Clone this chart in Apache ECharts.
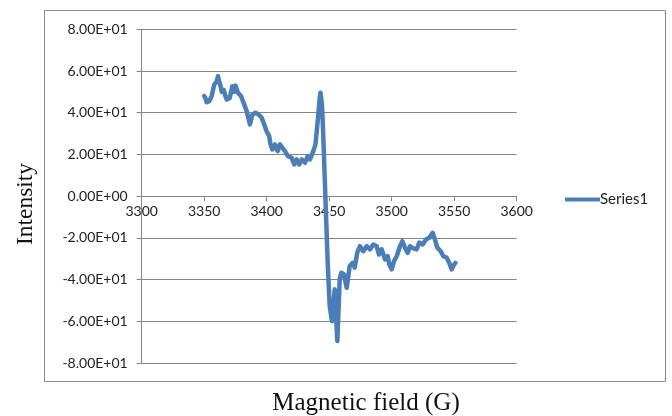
<!DOCTYPE html>
<html>
<head>
<meta charset="utf-8">
<script src="https://cdn.jsdelivr.net/npm/echarts@6/dist/echarts.min.js"></script>
<style>
html,body{margin:0;padding:0;background:#fff;}
#chart{width:672px;height:416px;}
</style>
</head>
<body>
<div id="chart"></div>
<script>
// Magnetic field (G)
var fieldG = [
 3350,3351,3352,3354,3355.4,3356,3358,3360,3361,3362,3363,3364,3365.6,3367,3368,3370.4,3372.5,3374,3375,3377,
 3379.4,3382,3384,3386.6,3388.5,3391,3393.8,3396,3398,3400,3402,3403,3404.5,3406.6,3408.8,3410.6,3412.5,3414.6,3417,3420,
 3422,3424,3426,3428,3430.6,3432.8,3434.6,3437.3,3439,3440.8,3442.4,3443,3444.2,3445,3446,3447.4,3448.8,3450.4,3452.2,3454.4,
 3456.5,3458.4,3459.7,3461.8,3464,3466.4,3468.8,3470.4,3472.5,3474.6,3477.3,3480,3482.6,3485.3,3488,3489.8,3492,3494.6,3496.8,3498,
 3500,3501.8,3504,3506.6,3508.5,3510.6,3512.8,3514.6,3517.3,3520,3522,3524.8,3527.4,3530,3532.8,3534.6,3536.5,3539.2,3541.3,3544,
 3546,3548,3550,3551
];
// Intensity
var intensity = [
 48,47,45,45.5,45,48,53.5,55,57.5,55,53,50,51,48,46.4,47,52.7,50,53,49.6,
 48,44,40.7,34.4,39,40,39,37.6,34.4,31,28.8,25,22.4,24.8,21.6,24.8,23.2,21.6,19.2,18.4,
 15.2,17.6,15.2,17.6,16,19.2,17.6,21.6,24.8,36,47,49.6,44,33,16,-8,-32,-52.7,-60,-44.7,
 -69.5,-40,-36.7,-37.5,-44,-33.5,-32,-34.3,-27,-24,-26.4,-24,-25.5,-23.2,-24,-28,-25.5,-30.3,-28.8,-32.7,
 -35.1,-31.2,-28.8,-24,-21.6,-24.7,-27.2,-24,-25,-25.5,-22.3,-23.2,-20.8,-20,-17.6,-20.8,-24.7,-26.4,-28.8,-29.5,
 -31.9,-35.1,-32.7,-32
];
var seriesName = 'Series1';
var xTitle = 'Magnetic field (G)';
var yTitle = 'Intensity';

var points = fieldG.map(function(x,i){return [x, intensity[i]];});

function sci(v){
  var s = Number(v).toExponential(2).split('e');
  var e = parseInt(s[1],10);
  var es = (e<0?'-':'+') + (Math.abs(e)<10?'0':'') + Math.abs(e);
  return s[0] + 'E' + es;
}

var chart = echarts.init(document.getElementById('chart'), null, {renderer:'canvas'});
var labelFont = 'Lato, "Open Sans", sans-serif';
chart.setOption({
  animation:false,
  backgroundColor:'#fff',
  grid:{left:141.7, right:155.3, top:29.3, bottom:53, containLabel:false, outerBoundsMode:'none'},
  legend:{
    data:[{name:seriesName, icon:'rect'}], left:560, top:187, itemWidth:35, itemHeight:4, itemGap:0,
    textStyle:{fontFamily:labelFont, fontSize:15, color:'#222', padding:[0,0,0,-5]}
  },
  xAxis:{
    type:'value', min:3300, max:3600, interval:50, position:'bottom', offset:-166.85,
    axisLine:{show:true, onZero:false, lineStyle:{color:'#868686', width:1}},
    axisTick:{show:true, length:5, lineStyle:{color:'#868686'}},
    axisLabel:{margin:8, fontFamily:labelFont, fontSize:14, color:'#222', formatter:function(v){return String(v);}},
    splitLine:{show:false}
  },
  yAxis:{
    type:'value', min:-80, max:80, interval:20,
    axisLine:{show:true, lineStyle:{color:'#868686', width:1}},
    axisTick:{show:true, length:5, lineStyle:{color:'#868686'}},
    axisLabel:{margin:14, fontFamily:labelFont, fontSize:14, color:'#222', formatter:sci},
    splitLine:{show:true, lineStyle:{color:'#868686', width:1}}
  },
  graphic:[
    {type:'rect', shape:{x:44.5, y:10.5, width:621, height:371}, style:{fill:null, stroke:'#888', lineWidth:1}, silent:true, z:-1},
    {type:'text', x:26, y:204, rotation:Math.PI/2, style:{text:yTitle, font:'23.5px "Liberation Serif", "Times New Roman", serif', fill:'#111', textAlign:'center', textVerticalAlign:'middle'}},
    {type:'text', x:366, y:403, style:{text:xTitle, font:'25px "Liberation Serif", "Times New Roman", serif', fill:'#111', textAlign:'center', textVerticalAlign:'middle'}}
  ],
  series:[{
    name:seriesName, type:'line', data:points, symbol:'none', smooth:false,
    lineStyle:{color:'#4a7ebb', width:4.5, join:'round', cap:'round'}, itemStyle:{color:'#4a7ebb'}
  }]
});
</script>
</body>
</html>
